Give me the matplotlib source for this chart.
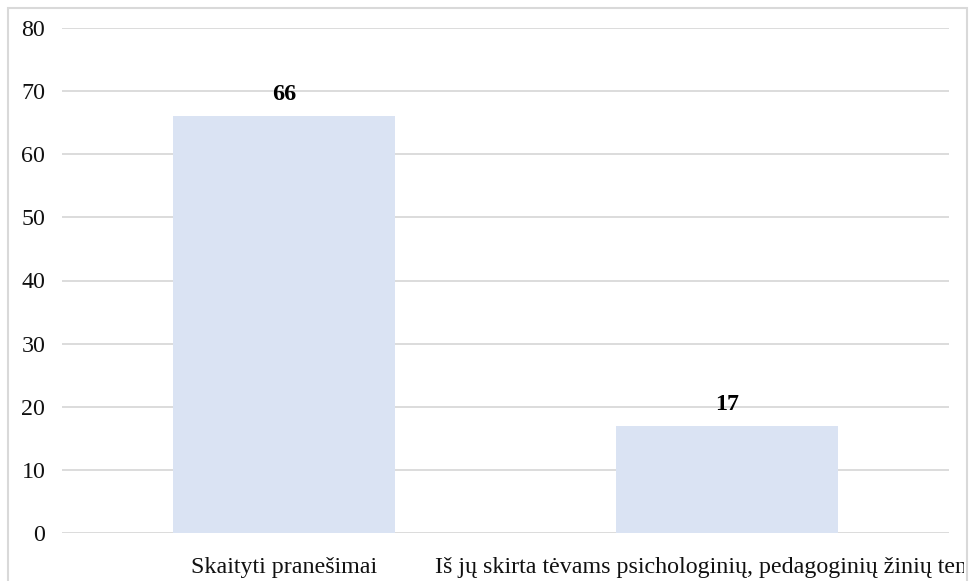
import matplotlib

matplotlib.use("Agg")
import matplotlib.pyplot as plt
from matplotlib.patches import Rectangle

categories = [
    "Skaityti pranešimai",
    "Iš jų skirta tėvams psichologinių, pedagoginių žinių temomis",
]
values = [66, 17]
yticks = [0, 10, 20, 30, 40, 50, 60, 70, 80]

W, H, DPI = 971, 581, 100
bar_color = "#dae3f3"
grid_color = "#d9d9d9"
fs = 17.3

plt.rcParams["font.family"] = ["Liberation Serif", "DejaVu Serif"]

fig = plt.figure(figsize=(W / DPI, H / DPI), dpi=DPI)
fig.patch.set_facecolor("white")

# plot area in pixels: x 62..949, y 28..533 (from top)
ax = fig.add_axes([62 / W, (H - 533) / H, (949 - 62) / W, (533 - 28) / H])
x = list(range(len(categories)))
ax.bar(x, values, width=0.5, color=bar_color, zorder=2)
ax.set_xlim(-0.5, len(categories) - 0.5)
ax.set_ylim(0, 80)
ax.set_yticks(yticks)
ax.set_yticklabels([str(t) for t in yticks], fontsize=fs, color="#111111")
ax.set_xticks(x)
ax.set_xticklabels(categories, fontsize=fs, color="#111111")
ax.tick_params(axis="both", length=0)
ax.tick_params(axis="y", pad=12)
ax.tick_params(axis="x", pad=17.5)
for s in ax.spines.values():
    s.set_visible(False)
ax.grid(axis="y", color=grid_color, linewidth=1.3, zorder=0)
ax.set_axisbelow(True)

for xi, v in zip(x, values):
    ax.annotate(str(v), xy=(xi, v), xytext=(0, 8), textcoords="offset points",
                ha="center", va="bottom", fontsize=fs, fontweight="bold")

# outer chart border, the long category label is cut at its right edge
border = Rectangle((8 / W, -0.05), (967 - 8) / W, 1.05 - 8 / H,
                   transform=fig.transFigure, fill=False,
                   edgecolor=grid_color, linewidth=1.5)
fig.patches.append(border)
clip = Rectangle((8 / W, 0), (964 - 8) / W, 1, transform=fig.transFigure,
                 fill=False, visible=False)
fig.patches.append(clip)
for lbl in ax.get_xticklabels():
    lbl.set_clip_path(clip)

fig.savefig("out.png", dpi=DPI, facecolor="white")
